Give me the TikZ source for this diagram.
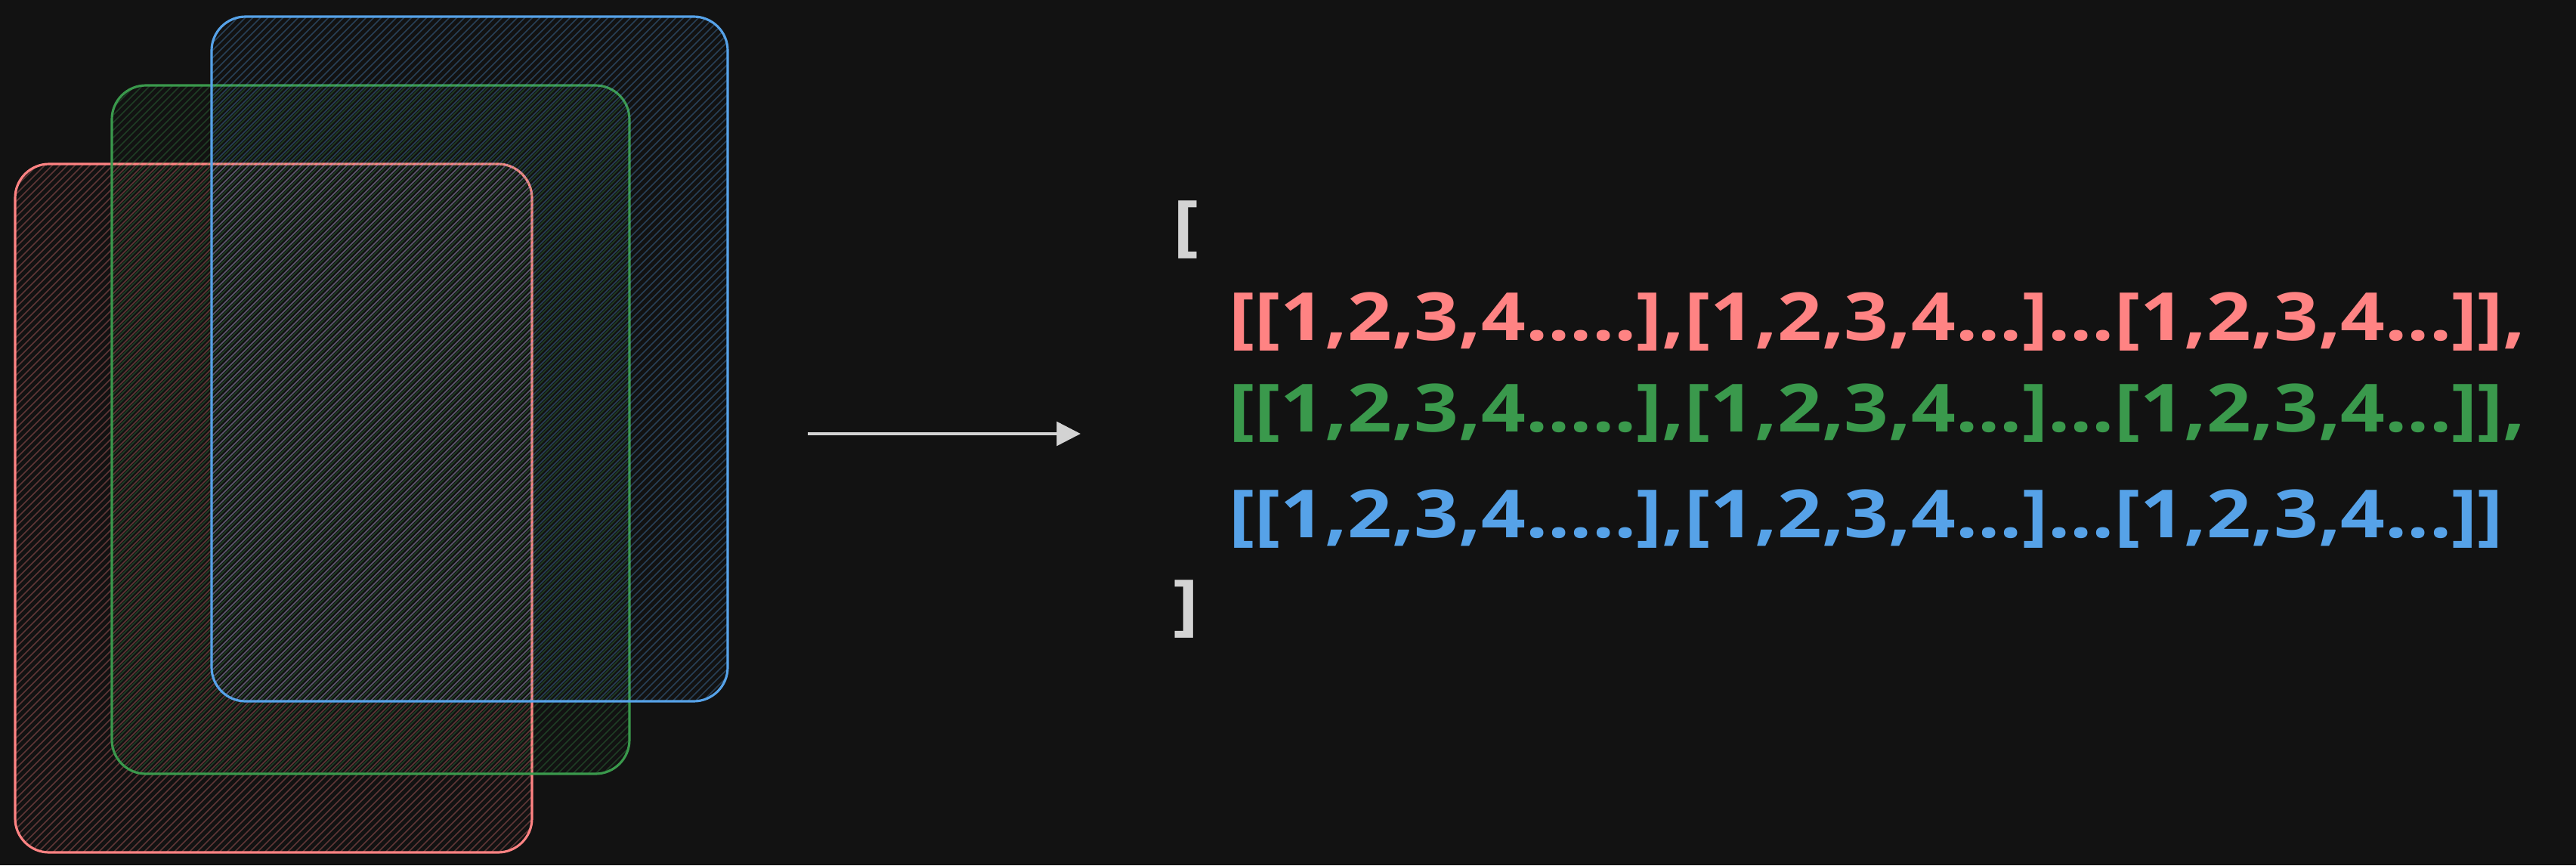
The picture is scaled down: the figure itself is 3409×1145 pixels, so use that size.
\documentclass[tikz,border=0pt]{standalone}
\usepackage{fontspec}
\newfontfamily\handfont[FakeStretch=1.17]{Open Sans}
\usetikzlibrary{arrows.meta}

\definecolor{bgcol}{HTML}{121212}
\definecolor{inkwhite}{HTML}{D3D3D3}
\definecolor{sheetred}{HTML}{FF8383}
\definecolor{sheetgreen}{HTML}{3A994C}
\definecolor{sheetblue}{HTML}{56A2E8}

\begin{document}
\begin{tikzpicture}[x=0.01cm, y=-0.01cm,
    sheet/.style={line width=0.9pt, rounded corners=0.45cm},
    hatch/.style={line width=0.45pt, draw opacity=0.32},
    row/.style={anchor=base west, inner sep=0pt, font=\handfont\bfseries\fontsize{25}{30}\selectfont}]

  \fill[bgcol] (0,0) rectangle (3409,1145); % dark page
  \useasboundingbox (0,0) rectangle (3409,1145); % keep the margins

  % three stacked sheets, back one drawn last
  \foreach \xa/\ya/\xb/\yb/\c in {20/217/704/1128/sheetred, 148/113/833/1024/sheetgreen, 280/22/963/928/sheetblue} {
    \begin{scope}
      \clip[rounded corners=0.45cm] (\xa,\ya) rectangle (\xb,\yb);
      \foreach \k in {-920,-910,...,700} {
        \draw[hatch, color=\c] ({\xa+\k},\yb) -- ({\xa+\k+\yb-\ya},\ya);
      }
    \end{scope}
    \draw[sheet, color=\c] (\xa,\ya) rectangle (\xb,\yb);
  }

  \coordinate (arrtail) at (1069,574);
  \coordinate (arrhead) at (1430,574);
  \draw[line width=1pt, inkwhite, -{Triangle[length=9pt, width=9pt]}] (arrtail) -- (arrhead);

  \node[row, inkwhite] (openbr) at (1552,328) {[};
  \node[row, sheetred] (rowred) at (1626,450) {[[1,2,3,4.....],[1,2,3,4...]...[1,2,3,4...]],};
  \node[row, sheetgreen] (rowgreen) at (1626,571) {[[1,2,3,4.....],[1,2,3,4...]...[1,2,3,4...]],};
  \node[row, sheetblue] (rowblue) at (1626,711) {[[1,2,3,4.....],[1,2,3,4...]...[1,2,3,4...]]};
  \node[row, inkwhite] (closebr) at (1552,830) {]};

\end{tikzpicture}
\end{document}
